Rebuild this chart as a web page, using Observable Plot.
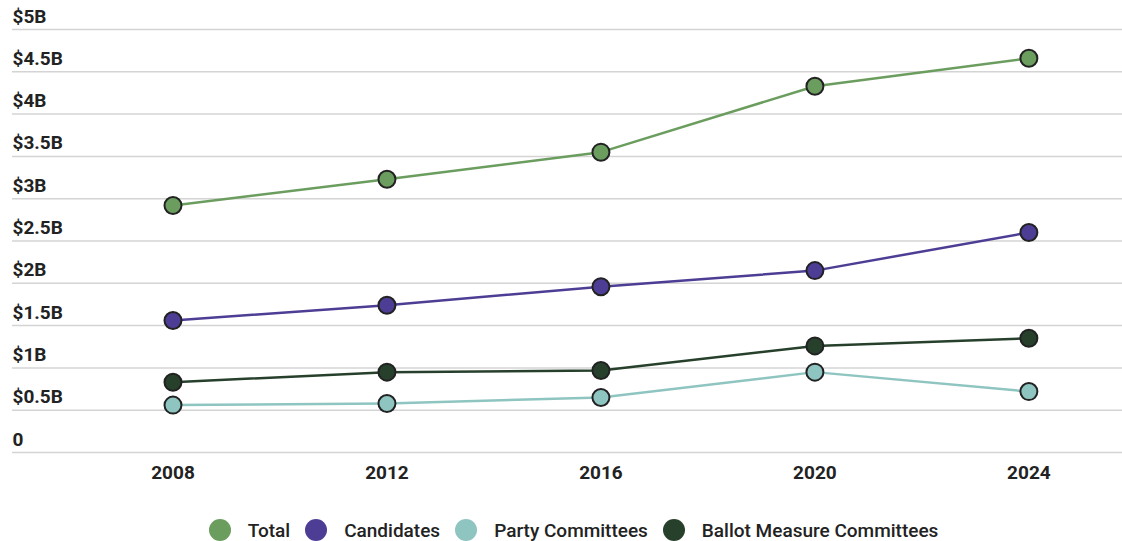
<!DOCTYPE html>
<html>
<head>
<meta charset="utf-8">
<script src="https://cdn.jsdelivr.net/npm/d3@7"></script>
<script src="https://cdn.jsdelivr.net/npm/@observablehq/plot@0.6"></script>
<style>
  html, body { margin: 0; padding: 0; background: #fff; }
  body { width: 1122px; height: 541px; overflow: hidden; font-family: Roboto, "Noto Sans", sans-serif; }
  #legend { display: flex; justify-content: center; align-items: center; gap: 15px; height: 40px; margin-top: 20px; padding-left: 25px; font-size: 19px; font-weight: 500; color: #222; }
  .item { display: flex; align-items: center; }
  .sw { width: 22px; height: 22px; border-radius: 50%; margin-right: 17px; }
</style>
</head>
<body>
<div id="chart"></div>
<div id="legend"></div>
<script>
const years = [2008, 2012, 2016, 2020, 2024];
const series = ["Total", "Candidates", "Party Committees", "Ballot Measure Committees"];
const colors = ["#6b9d5f", "#4e3d94", "#8fc5c1", "#26402c"];
const total = [2.92, 3.23, 3.55, 4.33, 4.66];
const candidates = [1.56, 1.74, 1.96, 2.15, 2.60];
const party = [0.56, 0.58, 0.65, 0.95, 0.72];
const ballot = [0.83, 0.95, 0.97, 1.26, 1.35];
const yTicks = [0, 0.5, 1, 1.5, 2, 2.5, 3, 3.5, 4, 4.5, 5];
const yLabels = ["0", "$0.5B", "$1B", "$1.5B", "$2B", "$2.5B", "$3B", "$3.5B", "$4B", "$4.5B", "$5B"];

const valuesBySeries = [total, candidates, party, ballot];
const data = [];
series.forEach((s, i) => years.forEach((y, j) => data.push({series: s, year: y, value: valuesBySeries[i][j]})));
const order = ["Party Committees", "Ballot Measure Committees", "Candidates", "Total"];
data.sort((a, b) => order.indexOf(a.series) - order.indexOf(b.series));

const chart = Plot.plot({
  width: 1122,
  height: 490,
  marginLeft: 12,
  marginRight: 0,
  marginTop: 29,
  marginBottom: 38,
  style: {fontFamily: "Roboto, sans-serif", color: "#222", background: "#fff"},
  x: {domain: [2005, 2025.75], axis: null, label: null},
  y: {domain: [0, 5], axis: null, label: null},
  color: {domain: series, range: colors},
  marks: [
    Plot.gridY(yTicks, {stroke: "#d4d4d4", strokeOpacity: 1, strokeWidth: 1.5}),
    Plot.text(yTicks, {y: d => d, text: (d, i) => yLabels[i], frameAnchor: "left", textAnchor: "start", dy: -13, fontWeight: "bold", fontSize: 19, fill: "#222"}),
    Plot.axisX(years, {tickSize: 0, tickPadding: 13, fontSize: 19, fontWeight: "bold", tickFormat: d => String(d), fill: "#222", label: null}),
    Plot.line(data, {x: "year", y: "value", z: "series", stroke: "series", strokeWidth: 2.5}),
    Plot.dot(data, {x: "year", y: "value", fill: "series", stroke: "#222", strokeWidth: 2, r: 8.5})
  ]
});
document.getElementById("chart").appendChild(chart);

const legend = document.getElementById("legend");
series.forEach((s, i) => {
  const it = document.createElement("div");
  it.className = "item";
  const sw = document.createElement("span");
  sw.className = "sw";
  sw.style.background = colors[i];
  const t = document.createElement("span");
  t.textContent = s;
  it.appendChild(sw); it.appendChild(t);
  legend.appendChild(it);
});
</script>
</body>
</html>
